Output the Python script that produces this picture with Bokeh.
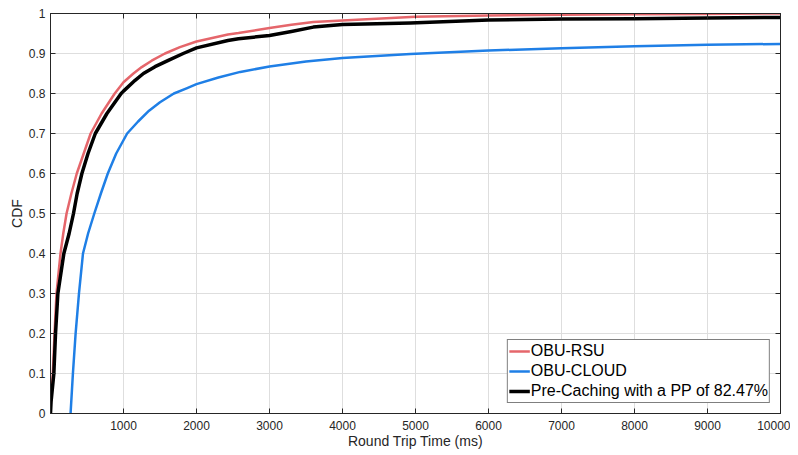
from bokeh.plotting import figure
from bokeh.models import LinearAxis, Range1d, FixedTicker, Legend, LegendItem
from bokeh.embed import file_html
from bokeh.resources import INLINE

# ---- data ----
rsu_x = [0, 5, 32, 55, 82, 137, 175, 220, 286, 360, 455, 550, 700, 880, 1000,
         1136, 1250, 1386, 1568, 1773, 2000, 2430, 2575, 3000, 3300, 3600,
         4000, 5000, 6000, 7000, 8000, 9000, 10000]
rsu_y = [0, 0.03, 0.1, 0.2, 0.3, 0.4, 0.45, 0.5, 0.55, 0.6, 0.65, 0.7, 0.75,
         0.8, 0.828, 0.85, 0.866, 0.882, 0.9, 0.916, 0.93, 0.9475, 0.951,
         0.964, 0.972, 0.979, 0.9825, 0.992, 0.995, 0.997, 0.998, 0.999, 1.0]

cloud_x = [275, 307, 344, 390, 445, 515, 600, 690, 785, 900, 1050, 1200,
           1350, 1500, 1690, 1864, 2000, 2300, 2600, 3000, 3500, 4000, 4930,
           6000, 7000, 8000, 9000, 10000]
cloud_y = [0, 0.1, 0.2, 0.3, 0.4, 0.45, 0.5, 0.55, 0.6, 0.65, 0.7,
           0.73, 0.757, 0.778, 0.8, 0.813, 0.8235, 0.84, 0.854, 0.8675, 0.88,
           0.889, 0.899, 0.9075, 0.913, 0.918, 0.9217, 0.924]

pre_x = [0, 8, 46, 69, 101, 183, 255, 315, 365, 430, 514, 614, 773,
         968, 1000, 1159, 1273, 1432, 1614, 1818, 2000, 2430, 2575, 3000,
         3300, 3600, 4000, 4930, 6000, 7000, 8000, 9000, 10000]
pre_y = [0, 0.03, 0.1, 0.2, 0.3, 0.4, 0.45, 0.5, 0.55, 0.6, 0.65,
         0.7, 0.75, 0.8, 0.806, 0.833, 0.85, 0.867, 0.883, 0.9, 0.914,
         0.9325, 0.937, 0.945, 0.955, 0.966, 0.9725, 0.976, 0.984, 0.986,
         0.987, 0.989, 0.99]

x_ticks = [1000, 2000, 3000, 4000, 5000, 6000, 7000, 8000, 9000, 10000]
y_ticks = [0, 0.1, 0.2, 0.3, 0.4, 0.5, 0.6, 0.7, 0.8, 0.9, 1]

labels = ["OBU-RSU", "OBU-CLOUD", "Pre-Caching with a PP of 82.47%"]
colors = ["#e5666b", "#1f7fe6", "#000000"]

FONT = "Liberation Sans"
AX = "#262626"

p = figure(frame_width=730, frame_height=400, output_backend="svg",
           toolbar_location=None,
           x_range=Range1d(0, 10000), y_range=Range1d(0, 1),
           min_border_left=50, min_border_right=10, min_border_top=13,
           min_border_bottom=40)

p.background_fill_color = "white"
p.border_fill_color = "white"
p.outline_line_color = AX
p.outline_line_width = 1

for ax in (p.xaxis[0], p.yaxis[0]):
    ax.major_label_text_font = FONT
    ax.major_label_text_font_size = "12px"
    ax.major_label_text_color = AX
    ax.axis_label_text_font = FONT
    ax.axis_label_text_font_size = "14px"
    ax.axis_label_text_font_style = "normal"
    ax.axis_label_text_color = AX
    ax.axis_line_color = AX
    ax.major_tick_line_color = AX
    ax.major_tick_in = 5
    ax.major_tick_out = 0
    ax.minor_tick_line_color = None

p.xaxis[0].ticker = FixedTicker(ticks=x_ticks)
p.yaxis[0].ticker = FixedTicker(ticks=y_ticks)
p.yaxis[0].major_label_overrides = {0: "0", 1: "1"}
p.xaxis[0].axis_label = "Round Trip Time (ms)"
p.yaxis[0].axis_label = "CDF"
p.xaxis[0].major_label_standoff = 7
p.xaxis[0].axis_label_standoff = 0
p.yaxis[0].major_label_standoff = 5
p.yaxis[0].axis_label_standoff = 1

# box ticks on top and right (labels not drawn)
top = LinearAxis(ticker=FixedTicker(ticks=x_ticks), major_label_text_font_size="1px",
                 major_label_text_color=None,
                 major_tick_in=5, major_tick_out=0, major_label_standoff=0,
                 axis_line_color=AX, major_tick_line_color=AX,
                 minor_tick_line_color=None)
right = LinearAxis(ticker=FixedTicker(ticks=y_ticks), major_label_text_font_size="1px",
                   major_label_text_color=None,
                   major_tick_in=5, major_tick_out=0, major_label_standoff=0,
                   axis_line_color=AX, major_tick_line_color=AX,
                   minor_tick_line_color=None)
p.add_layout(top, "above")
p.add_layout(right, "right")

p.xgrid.ticker = FixedTicker(ticks=x_ticks)
p.ygrid.ticker = FixedTicker(ticks=y_ticks)
p.grid.grid_line_color = "#dedede"
p.grid.grid_line_width = 1

r_rsu = p.line(rsu_x, rsu_y, line_color=colors[0], line_width=2.5,
               line_join="round")
r_cloud = p.line(cloud_x, cloud_y, line_color=colors[1], line_width=2.5,
                 line_join="round")
r_pre = p.line(pre_x, pre_y, line_color=colors[2], line_width=3.5,
               line_join="round")

legend = Legend(items=[LegendItem(label=labels[0], renderers=[r_rsu]),
                       LegendItem(label=labels[1], renderers=[r_cloud]),
                       LegendItem(label=labels[2], renderers=[r_pre])],
                location="bottom_right")
legend.label_text_font = FONT
legend.label_text_font_size = "16px"
legend.label_text_color = "#000000"
legend.border_line_color = "#000000"
legend.border_line_width = 1
legend.background_fill_color = "white"
legend.background_fill_alpha = 1
legend.padding = 1
legend.spacing = 0
legend.margin = 10
legend.glyph_width = 21
legend.glyph_height = 20
legend.label_height = 20
legend.label_standoff = 1
p.add_layout(legend, "center")

open("out.html", "w").write(file_html(p, INLINE))
